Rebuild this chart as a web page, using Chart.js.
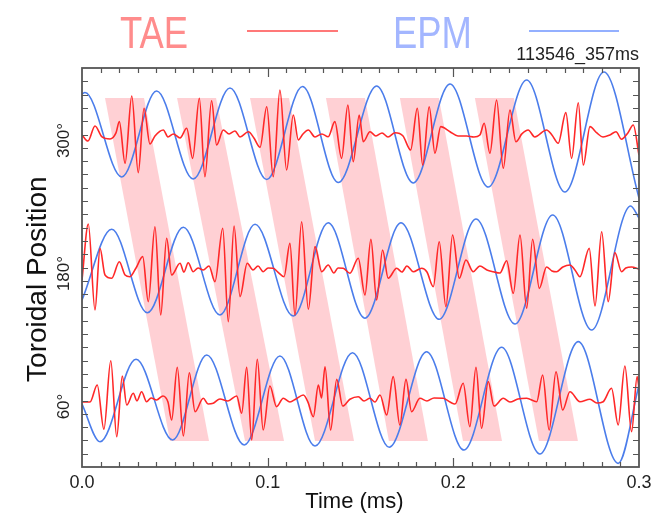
<!DOCTYPE html>
<html>
<head>
<meta charset="utf-8">
<script src="https://cdn.jsdelivr.net/npm/chart.js@4.4.1/dist/chart.umd.min.js"></script>
<style>
  body { margin: 0; background: #fff; }
  #wrap { position: relative; width: 660px; height: 519px; font-family: "Liberation Sans", Arial, sans-serif; }
  #wrap canvas { position: absolute; left: 0; top: 0; }
  .leg { position: absolute; top: 10px; font-size: 45px; line-height: 45px; transform: scaleX(0.81); transform-origin: 0 0; white-space: nowrap; }
  .legline { position: absolute; top: 30px; height: 2px; }
  #shot { position: absolute; right: 21px; top: 45px; font-size: 18px; line-height: 18px; color: #222; }
</style>
</head>
<body>
<div id="wrap">
  <canvas id="chart" width="660" height="519"></canvas>
  <div class="leg" style="left:120px; color:#ff8c8c">TAE</div>
  <div class="legline" style="left:247px; width:91px; background:#ff7878"></div>
  <div class="leg" style="left:393px; color:#a3b6ff">EPM</div>
  <div class="legline" style="left:529px; width:90px; background:#94b0ff"></div>
  <div id="shot">113546_357ms</div>
</div>
<script>
// time (ms), toroidal position (deg)
const epmTop = [[0,336.6],[0.0016,337.9],[0.0214,261.7],[0.0402,339.3],[0.0599,259.9],[0.0797,342.0],[0.0995,259.4],
  [0.1188,343.3],[0.1380,256.7],[0.1587,343.8],[0.1784,256.3],[0.1982,345.6],[0.2188,252.6],[0.2395,349.2],
  [0.2601,248.1],[0.2811,356.4],[0.3,242.7]];
const epmMid = [[0,150.7],[0.0160,214.5],[0.0352,139.2],[0.0546,216.3],[0.0743,137.1],[0.0932,219.0],[0.1138,136.2],
  [0.1326,220.4],[0.1524,134.2],[0.1718,220.4],[0.1924,133.3],[0.2122,223.8],[0.2332,129.0],[0.2535,227.4],
  [0.2745,123.6],[0.2955,235.5],[0.3,224.7]];
const epmBot = [[0,56.8],[0.0097,22.8],[0.0291,97.2],[0.0488,24.4],[0.0672,101.1],[0.0874,19.9],[0.1066,100.2],
  [0.1255,18.9],[0.1457,103.1],[0.1655,17.8],[0.1856,104.0],[0.2057,15.3],[0.2260,108.0],[0.2466,11.7],
  [0.2673,113.1],[0.2888,3.3],[0.3,74.0]];

const taeTop = [[0,299.6],[0.0032,294.1],[0.0070,307.7],[0.0108,297.8],[0.0151,296.0],[0.0183,301.4],
  [0.0201,311.6],[0.0232,274.0],[0.0268,334.8],[0.0303,265.6],[0.0334,323.7],[0.0366,291.4],[0.0393,298.7],
  [0.0438,304.1],[0.0463,297.8],[0.0492,300.5],[0.0528,296.9],[0.0564,305.6],
  [0.0596,278.5],[0.0632,332.7],[0.0662,261.9],[0.0698,330.5],[0.0725,290.5],[0.0761,304.1],[0.0792,300.5],
  [0.0824,303.2],[0.0851,297.8],[0.0896,302.5],
  [0.0926,296.9],[0.0959,288.5],[0.0995,325.1],[0.1030,261.9],[0.1066,340.2],[0.1102,268.0],[0.1138,317.6],
  [0.1165,295.1],[0.1190,300.5],[0.1219,304.1],[0.1255,297.8],[0.1292,300.5],[0.1326,298.0],
  [0.1362,311.6],[0.1398,278.5],[0.1432,326.6],[0.1461,275.5],[0.1493,317.6],[0.1515,293.5],[0.1551,302.5],
  [0.1583,298.7],[0.1616,301.4],[0.1648,297.8],[0.1686,301.6],[0.1729,298.7],
  [0.1770,286.0],[0.1806,323.7],[0.1835,272.5],[0.1870,325.1],[0.1901,283.1],[0.1932,307.1],[0.1982,302.5],
  [0.2025,298.7],[0.2072,298.7],[0.2111,297.8],[0.2143,299.6],
  [0.2166,310.1],[0.2197,283.1],[0.2233,331.1],[0.2269,269.5],[0.2305,322.1],[0.2337,293.5],[0.2369,300.5],
  [0.2403,304.1],[0.2439,297.8],[0.2502,304.1],[0.2531,299.6],
  [0.2565,292.1],[0.2606,319.7],[0.2637,278.5],[0.2673,328.7],[0.2700,272.5],[0.2736,307.1],[0.2773,301.4],
  [0.2806,297.8],[0.2843,299.6],[0.2876,302.5],[0.2906,295.7],[0.2940,301.4],[0.2969,308.6],[0.3,281.5]];

const taeMid = [[0,168.7],[0.0034,219.3],[0.0070,141.7],[0.0097,197.3],[0.0124,173.2],[0.0160,170.3],
  [0.0201,185.2],[0.0232,173.2],[0.0258,171.7],[0.0291,179.6],
  [0.0327,189.8],[0.0357,149.2],[0.0393,216.8],[0.0424,137.1],[0.0456,206.4],[0.0483,173.2],[0.0528,183.8],
  [0.0549,175.9],[0.0572,184.3],[0.0599,176.2],[0.0625,179.6],[0.0653,177.8],[0.0684,181.4],
  [0.0716,167.2],[0.0758,215.4],[0.0788,131.1],[0.0819,217.5],[0.0851,153.7],[0.0890,183.8],[0.0921,177.8],
  [0.0948,181.4],[0.0976,176.2],[0.1002,179.6],[0.1030,179.3],[0.1055,175.9],
  [0.1088,171.7],[0.1120,201.8],[0.1147,137.1],[0.1183,221.3],[0.1219,142.3],[0.1255,198.8],[0.1291,176.2],
  [0.1326,182.3],[0.1357,175.0],[0.1379,179.6],[0.1407,179.3],[0.1443,174.8],
  [0.1488,188.3],[0.1524,155.2],[0.1556,205.5],[0.1587,150.7],[0.1619,195.8],[0.1649,170.3],[0.1695,179.3],
  [0.1723,175.9],[0.1750,181.4],[0.1784,176.2],[0.1829,179.3],[0.1858,175.9],
  [0.1892,162.7],[0.1924,203.3],[0.1960,144.6],[0.1996,209.3],[0.2032,170.3],[0.2068,186.8],[0.2107,176.2],
  [0.2143,181.4],[0.2181,177.8],[0.2215,176.2],[0.2251,175.0],
  [0.2287,186.1],[0.2323,156.7],[0.2359,209.3],[0.2395,143.2],[0.2427,205.5],[0.2463,161.2],[0.2502,180.5],
  [0.2531,176.9],[0.2556,176.2],[0.2590,180.5],[0.2628,182.3],[0.2655,177.8],[0.2682,171.7],
  [0.2732,197.3],[0.2763,145.3],[0.2799,212.3],[0.2834,149.2],[0.2870,193.4],[0.2906,176.2],[0.2929,179.6],
  [0.2960,180.5],[0.3,178.4]];

const taeBot = [[0,58.6],[0.0043,58.6],[0.0082,74.0],[0.0118,34.0],[0.0155,95.9],[0.0187,27.3],[0.0217,82.1],
  [0.0241,55.9],[0.0276,66.5],[0.0296,59.6],[0.0321,67.9],[0.0348,58.9],[0.0372,62.3],[0.0402,60.5],
  [0.0436,64.1],[0.0463,58.6],
  [0.0483,42.4],[0.0513,90.0],[0.0546,28.0],[0.0578,85.1],[0.0609,49.9],[0.0653,62.0],[0.0679,56.8],
  [0.0707,57.5],[0.0743,61.4],[0.0786,59.6],[0.0833,64.1],
  [0.0860,48.5],[0.0887,90.0],[0.0914,24.4],[0.0944,97.2],[0.0976,33.4],[0.1012,73.1],[0.1048,54.4],
  [0.1084,62.0],[0.1120,58.6],[0.1152,61.4],[0.1192,65.0],[0.1217,58.6],
  [0.1246,45.4],[0.1273,74.0],[0.1290,62.3],[0.1309,90.5],[0.1339,33.4],[0.1372,79.1],[0.1404,55.0],
  [0.1443,61.1],[0.1488,63.4],[0.1519,59.6],[0.1551,62.0],[0.1578,58.6],[0.1605,65.0],
  [0.1641,46.9],[0.1676,81.5],[0.1712,37.9],[0.1745,79.1],[0.1775,49.9],[0.1820,62.0],[0.1858,59.6],
  [0.1896,62.3],[0.1946,62.0],[0.1982,58.6],[0.2009,56.8],
  [0.2053,75.5],[0.2089,36.4],[0.2122,90.0],[0.2152,34.9],[0.2188,77.0],[0.2219,55.0],[0.2269,62.0],
  [0.2305,58.6],[0.2348,61.4],[0.2395,62.0],[0.2449,58.9],
  [0.2481,83.0],[0.2516,33.4],[0.2553,86.0],[0.2589,51.4],[0.2628,67.9],[0.2682,58.9],[0.2736,61.1],
  [0.2773,57.7],[0.2807,58.9],
  [0.2852,71.0],[0.2888,37.9],[0.2924,91.1],[0.2960,31.9],[0.2990,81.5],[0.3,71.3]];

// shaded slanted bands: start time at the top and at the bottom edge
const bandTopStart = [0.0124, 0.0512, 0.0905, 0.1314, 0.1712, 0.2116];
const bandBottomStart = [0.0474, 0.0878, 0.1255, 0.1653, 0.2052, 0.2461];
const bandWidth = 0.021;
const bandTopPos = 333;
const bandBottomPos = 23.5;

const xTickLabels = [0, 0.1, 0.2, 0.3];
const yTickLabels = [60, 180, 300];

const red = 'rgb(255, 40, 40)';
const blue = 'rgb(75, 125, 235)';

const pts = a => a.map(([x, y]) => ({x, y}));

function trace(data, color, order) {
  return {
    data: pts(data),
    borderColor: color,
    borderWidth: 1.6,
    pointRadius: 0,
    cubicInterpolationMode: 'monotone',
    fill: false,
    order: order
  };
}

const bands = bandTopStart.map((t0, i) => ({
  data: [
    {x: t0, y: bandTopPos},
    {x: t0 + bandWidth, y: bandTopPos},
    {x: bandBottomStart[i] + bandWidth, y: bandBottomPos},
    {x: bandBottomStart[i], y: bandBottomPos}
  ],
  borderColor: 'rgba(0,0,0,0)',
  borderWidth: 0,
  pointRadius: 0,
  tension: 0,
  fill: 'shape',
  backgroundColor: 'rgba(255, 150, 160, 0.45)',
  order: 3
}));

// frame with inward tick marks on all four sides
const frameTicks = {
  id: 'frameTicks',
  afterDraw(chart) {
    const {ctx, chartArea: a, scales: {x, y}} = chart;
    ctx.save();
    ctx.strokeStyle = '#555';
    ctx.lineWidth = 1.2;
    ctx.beginPath();
    for (let i = 1; i < 30; i++) {
      const px = Math.round(x.getPixelForValue(i / 100)) + 0.5;
      const len = i % 10 === 0 ? 9 : 5;
      ctx.moveTo(px, a.bottom); ctx.lineTo(px, a.bottom - len);
      ctx.moveTo(px, a.top); ctx.lineTo(px, a.top + len);
    }
    for (let i = 1; i < 30; i++) {
      const py = Math.round(y.getPixelForValue(i * 12)) + 0.5;
      ctx.moveTo(a.left, py); ctx.lineTo(a.left + 6, py);
      ctx.moveTo(a.right, py); ctx.lineTo(a.right - 6, py);
    }
    ctx.stroke();
    ctx.lineWidth = 1.8;
    ctx.strokeRect(a.left, a.top, a.right - a.left, a.bottom - a.top);
    ctx.restore();
  }
};

Chart.defaults.font.family = '"Liberation Sans", Arial, sans-serif';

new Chart(document.getElementById('chart').getContext('2d'), {
  type: 'line',
  data: {
    datasets: [
      ...bands,
      trace(epmTop, blue, 2), trace(epmMid, blue, 2), trace(epmBot, blue, 2),
      trace(taeTop, red, 1), trace(taeMid, red, 1), trace(taeBot, red, 1)
    ]
  },
  options: {
    responsive: false,
    animation: false,
    layout: { padding: { top: 68, right: 21, left: 0, bottom: 0 } },
    plugins: { legend: { display: false }, tooltip: { enabled: false } },
    scales: {
      x: {
        type: 'linear', min: 0, max: 0.3,
        grid: { display: false, drawTicks: false },
        border: { display: false },
        afterBuildTicks: s => { s.ticks = xTickLabels.map(v => ({value: v})); },
        afterFit: s => { s.height = 52; },
        ticks: { padding: 5, color: '#222', font: { size: 18 }, maxRotation: 0, callback: v => v.toFixed(1) },
        title: { display: true, text: 'Time (ms)  ', color: '#111', font: { size: 22 }, padding: { top: 0, bottom: 4 } }
      },
      y: {
        type: 'linear', min: 0, max: 360,
        grid: { display: false, drawTicks: false },
        border: { display: false },
        afterBuildTicks: s => { s.ticks = yTickLabels.map(v => ({value: v})); },
        afterFit: s => { s.width = 82; },
        ticks: { padding: 0, labelOffset: 6, crossAlign: 'center', minRotation: 90, maxRotation: 90, color: '#222', font: { size: 17 }, callback: v => v + '°' },
        title: { display: true, text: 'Toroidal Position   ', color: '#111', font: { size: 28 }, padding: { top: 21 } }
      }
    }
  },
  plugins: [frameTicks]
});
</script>
</body>
</html>
